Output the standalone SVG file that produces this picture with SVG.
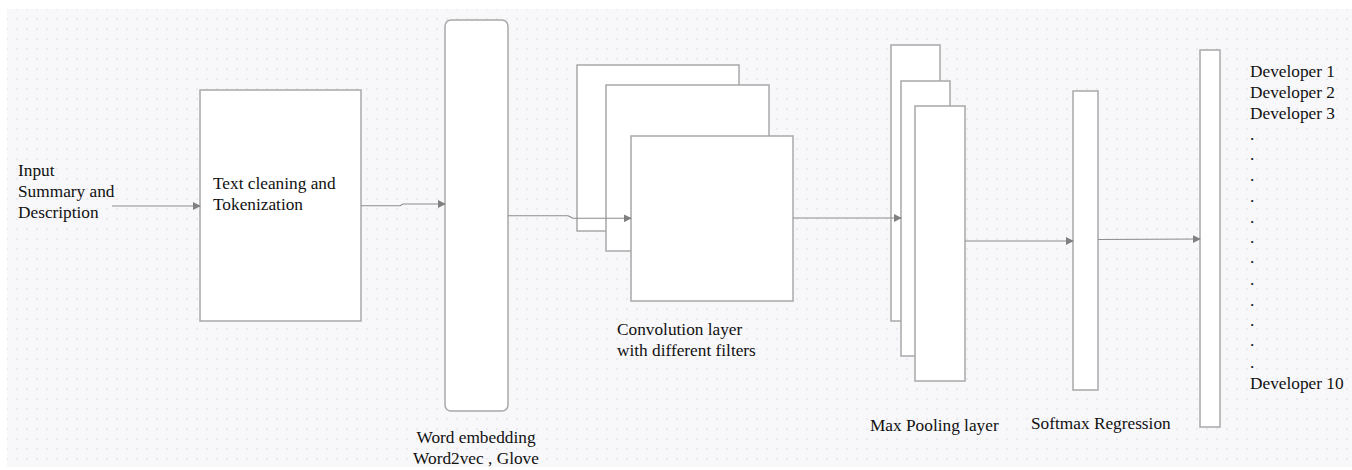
<svg xmlns="http://www.w3.org/2000/svg" width="1352" height="470" viewBox="0 0 1352 470">
  <defs>
    <pattern id="grid" patternUnits="userSpaceOnUse" x="2" y="4" width="10" height="10">
      <rect x="4.3" y="4.3" width="1.4" height="1.4" fill="#dcdce2"/>
    </pattern>
    <marker id="arrow" viewBox="0 0 10 10" refX="9" refY="5" markerWidth="8" markerHeight="8" markerUnits="userSpaceOnUse" orient="auto">
      <path d="M0,0 L10,5 L0,10 z" fill="#808080"/>
    </marker>
    <style>
      .box { fill: #ffffff; stroke: #a8a8a8; stroke-width: 1.5; }
      .link { fill: none; stroke: #8c8c8c; stroke-width: 1.1; marker-end: url(#arrow); }
      text { font-family: 'Liberation Serif', Tinos, 'Noto Serif', 'DejaVu Serif', Times, serif; font-size: 17.3px; fill: #111111; }
    </style>
  </defs>

  <!-- canvas -->
  <rect x="0" y="0" width="1352" height="470" fill="#ffffff"/>
  <rect x="7" y="9" width="1345" height="458" fill="#f8f8fa"/>
  <rect x="7" y="9" width="1345" height="458" fill="url(#grid)"/>

  <g id="input">
    <text x="18" y="176">Input</text>
    <text x="18" y="197">Summary and</text>
    <text x="18" y="218">Description</text>
  </g>

  <g id="text-cleaning">
    <rect class="box" x="200" y="90" width="161" height="231"/>
    <text x="213" y="189">Text cleaning and</text>
    <text x="213" y="210">Tokenization</text>
  </g>

  <g id="word-embedding">
    <rect class="box" x="445" y="20" width="63" height="391" rx="6" ry="6"/>
    <text x="476" y="443" text-anchor="middle">Word embedding</text>
    <text x="476" y="464" text-anchor="middle">Word2vec , Glove</text>
  </g>

  <g id="convolution">
    <rect class="box" x="577" y="65" width="162" height="166"/>
    <rect class="box" x="606" y="85" width="163" height="166"/>
    <rect class="box" x="631" y="136" width="162" height="165"/>
    <text x="617" y="335">Convolution layer</text>
    <text x="617" y="356">with different filters</text>
  </g>

  <g id="max-pooling">
    <rect class="box" x="891" y="45" width="49" height="276"/>
    <rect class="box" x="901" y="81" width="49" height="275"/>
    <rect class="box" x="915" y="106" width="50" height="275"/>
    <text x="870" y="431">Max Pooling layer</text>
  </g>

  <g id="softmax">
    <rect class="box" x="1073" y="91" width="25" height="299"/>
    <text x="1031" y="429">Softmax Regression</text>
  </g>

  <g id="output">
    <rect class="box" x="1200" y="50" width="20" height="377"/>
    <text x="1250" y="77">Developer 1</text>
    <text x="1250" y="98">Developer 2</text>
    <text x="1250" y="119">Developer 3</text>
    <text x="1250" y="140">.</text>
    <text x="1250" y="160">.</text>
    <text x="1250" y="181">.</text>
    <text x="1250" y="202">.</text>
    <text x="1250" y="223">.</text>
    <text x="1250" y="243">.</text>
    <text x="1250" y="263">.</text>
    <text x="1250" y="285">.</text>
    <text x="1250" y="306">.</text>
    <text x="1250" y="326">.</text>
    <text x="1250" y="346">.</text>
    <text x="1250" y="368">.</text>
    <text x="1250" y="389">Developer 10</text>
  </g>

  <!-- connectors, drawn over the stacked layers -->
  <g id="connectors">
    <path class="link" d="M112,206 L200,206"/>
    <path class="link" d="M361,205.7 L400,205.7 L403,204 L445,204"/>
    <path class="link" d="M508,215.7 L568,215.7 L573,218.3 L631,218.3"/>
    <path class="link" d="M793,218 L901,218"/>
    <path class="link" d="M965,241 L1073,241"/>
    <path class="link" d="M1098,239.5 L1200,239"/>
  </g>
</svg>
